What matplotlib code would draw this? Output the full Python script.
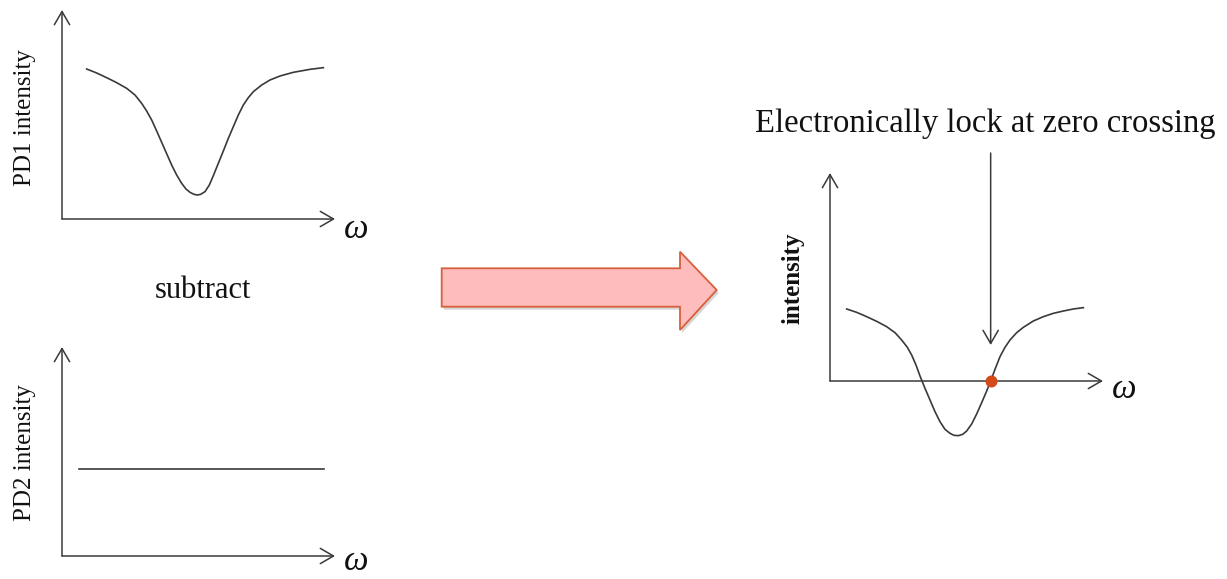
import matplotlib
matplotlib.use("Agg")
import matplotlib.pyplot as plt
from matplotlib.patches import Polygon

plt.rcParams['font.family'] = ['Liberation Serif', 'DejaVu Serif']

# PD1 signal: a dip around the resonance
pd1_omega = [0.904, 1.270, 1.636, 2.003, 2.369, 2.674, 2.918, 3.101, 3.285,
             3.468, 3.651, 3.834, 4.017, 4.200, 4.383, 4.542, 4.689, 4.835,
             4.957, 5.079, 5.238, 5.397, 5.543, 5.726, 5.910, 6.093, 6.276,
             6.459, 6.642, 6.825, 7.009, 7.314, 7.619, 7.985, 8.474, 9.084,
             9.573]
pd1_int = [7.177, 6.986, 6.762, 6.523, 6.252, 5.933, 5.534, 5.167, 4.737,
           4.211, 3.668, 3.126, 2.584, 2.105, 1.707, 1.435, 1.276, 1.180,
           1.148, 1.180, 1.308, 1.627, 2.073, 2.664, 3.254, 3.860, 4.418,
           4.976, 5.455, 5.805, 6.092, 6.411, 6.651, 6.842, 7.018, 7.161,
           7.241]

# PD2 signal: flat reference level
pd2_omega = [0.62, 9.60]
pd2_int = [4.15, 4.15]

# difference signal (PD1 - PD2)
diff_omega = [0.611, 0.977, 1.343, 1.709, 2.076, 2.381, 2.625, 2.833, 2.991,
              3.150, 3.297, 3.480, 3.663, 3.846, 4.029, 4.212, 4.396, 4.542,
              4.701, 4.860, 5.006, 5.189, 5.372, 5.556, 5.739, 5.885, 6.044,
              6.227, 6.410, 6.593, 6.838, 7.082, 7.448, 7.814, 8.181, 8.547,
              8.913, 9.280]
diff_int = [3.462, 3.301, 3.093, 2.869, 2.612, 2.324, 1.971, 1.619, 1.250,
            0.769, 0.240, -0.353, -0.913, -1.474, -1.955, -2.324, -2.516,
            -2.612, -2.628, -2.564, -2.404, -2.067, -1.587, -1.042, -0.481,
            0.0, 0.561, 1.170, 1.619, 1.971, 2.324, 2.580, 2.885, 3.093,
            3.253, 3.365, 3.462, 3.526]

lock_omega = 5.885
lock_int = 0.0

W, H = 1227, 579
ink = '#3a3a3a'
head = '->,head_length=0.95,head_width=0.55'

fig = plt.figure(figsize=(W / 100, H / 100), dpi=100)
bg = fig.add_axes([0, 0, 1, 1])
bg.set_xlim(0, W)
bg.set_ylim(H, 0)
bg.axis('off')


def panel(x0, y0, x1, y1):
    # pixel box (origin at x0,y0 bottom-left, arrow tips at x1,y1)
    ax = fig.add_axes([x0 / W, 1 - y0 / H, (x1 - x0) / W, (y0 - y1) / H])
    ax.set_xlim(0, 10)
    ax.set_ylim(0, 10)
    ax.axis('off')
    for tip in [(1, 0), (0, 1)]:
        ax.annotate('', xy=tip, xytext=(0, 0), xycoords='axes fraction',
                    arrowprops=dict(arrowstyle=head, color=ink, lw=1.1,
                                    shrinkA=0, shrinkB=0))
    return ax


ax1 = panel(62, 219, 335, 10)
ax1.plot(pd1_omega, pd1_int, color=ink, lw=1.2, solid_joinstyle='round')

ax2 = panel(62, 556, 335, 347)
ax2.plot(pd2_omega, pd2_int, color=ink, lw=1.2)

ax3 = panel(830, 381, 1103, 173)
ax3.plot(diff_omega, diff_int, color=ink, lw=1.2, clip_on=False,
         solid_joinstyle='round')
ax3.scatter([lock_omega], [lock_int], s=75, color='#d2491c', zorder=5,
            clip_on=False, linewidths=0)
ax3.annotate('', xy=(lock_omega, 1.73), xytext=(lock_omega, 10.96),
             annotation_clip=False,
             arrowprops=dict(arrowstyle=head, color=ink, lw=1.1,
                             shrinkA=0, shrinkB=0))

# labels
bg.text(25, 118, 'PD1 intensity', rotation=90, ha='center', va='center',
        fontsize=18, color='#111111')
bg.text(25, 453, 'PD2 intensity', rotation=90, ha='center', va='center',
        fontsize=18, color='#111111')
bg.text(793, 278, 'intensity', rotation=90, ha='center', va='center',
        fontsize=18, fontweight='bold', color='#111111')
for (x, y) in [(356, 229), (356, 561), (1124, 390)]:
    bg.text(x, y, 'ω', ha='center', va='center', fontsize=25,
            style='italic', color='#111111')
bg.text(203, 290, 'subtract', ha='center', va='center', fontsize=22,
        color='#111111')
bg.text(985, 124, 'Electronically lock at zero crossing', ha='center',
        va='center', fontsize=23.5, color='#111111')

# big block arrow
arrow_pts = [(441.7, 268.3), (680, 268.3), (680, 251.7), (716.7, 290),
             (680, 330), (680, 306.7), (441.7, 306.7)]
shadow = [(x + 2, y + 3) for (x, y) in arrow_pts]
bg.add_patch(Polygon(shadow, closed=True, facecolor='#888888', alpha=0.35,
                     edgecolor='none'))
bg.add_patch(Polygon(arrow_pts, closed=True, facecolor='#ffbcbc',
                     edgecolor='#d7603c', lw=1.3, joinstyle='miter'))

fig.savefig('out.png', dpi=100)
